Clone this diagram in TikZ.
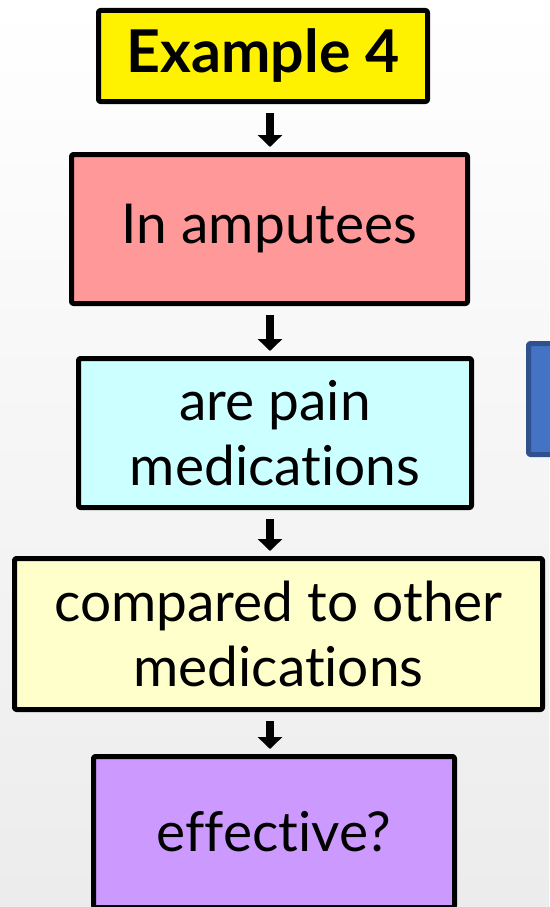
\documentclass[tikz,border=0pt]{standalone}
\usepackage{fontspec}
\setmainfont{Lato}[Ligatures=NoCommon]
\usetikzlibrary{arrows.meta}
\definecolor{boxred}{HTML}{FF9999}
\definecolor{boxcyan}{HTML}{CCFFFF}
\definecolor{boxcream}{HTML}{FFFFCC}
\definecolor{boxpurple}{HTML}{CC99FF}
\definecolor{sidefill}{HTML}{4472C4}
\definecolor{sideline}{HTML}{2F528F}
\begin{document}
\begin{tikzpicture}[x=1pt,y=-1pt,line join=round,
    box/.style={draw=black,line width=5pt,rounded corners=2pt,align=center,inner sep=0pt,
      font=\fontsize{55}{65}\selectfont},
    arr/.style={line width=8pt,-{Triangle[width=24pt,length=12pt]},shorten <=9pt,shorten >=5pt}]
    \shade[top color=white,bottom color=gray!15] (0,0) rectangle (549,907);
    \useasboundingbox (0,0) rectangle (549,907);
    \coordinate (axis) at (270,0);
    % boxes
    \node[box,fill=yellow,minimum width=329pt,minimum height=91pt,
      font=\fontsize{59}{65}\selectfont\bfseries] (ex) at (263,56) {Example 4};
    \node[box,fill=boxred,minimum width=396pt,minimum height=149pt] (amp) at (269.5,229) {In amputees};
    \node[box,fill=boxcyan,minimum width=393pt,minimum height=149pt] (pain) at (275,433) {are pain\\medications};
    \node[box,fill=boxcream,minimum width=528pt,minimum height=151pt] (comp) at (278.5,634) {compared to other\\medications};
    \node[box,fill=boxpurple,minimum width=361pt,minimum height=151pt] (eff) at (274,832) {effective?};
    \node[box,draw=sideline,fill=sidefill,minimum width=100pt,minimum height=111pt] (side) at (578.5,399) {};
    % arrows
    \foreach \a/\b in {ex/amp,amp/pain,pain/comp,comp/eff}
        \draw[arr] (\a.south -| axis) -- (\b.north -| axis);
\end{tikzpicture}
\end{document}
